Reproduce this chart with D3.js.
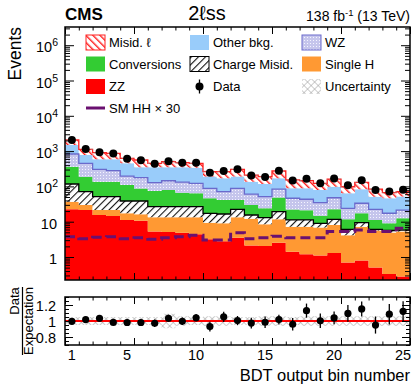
<!DOCTYPE html>
<html>
<head>
<meta charset="utf-8">
<script src="https://cdn.jsdelivr.net/npm/d3@7"></script>
<style>
  body { margin: 0; background: #fff; }
  svg { display: block; }
  text { font-family: "Liberation Sans", Arial, Helvetica, sans-serif; fill: #000; }
</style>
</head>
<body>
<svg id="chart" width="412" height="384"></svg>
<script>
// ---- Yields per BDT output bin (2lss category) ----
const bins = d3.range(1, 26);
const zz          = [22.4, 21.4, 15.5, 14.5, 11.2, 10.7, 5.3, 5.1, 4.9, 4.4, 3.2, 2.8, 3.5, 2.1, 2.05, 2.55, 1.4, 1.2, 1.1, 1.3, 0.7, 0.8, 0.5, 0.33, 0.28];
const singleH     = [14.5, 8.3, 5.9, 6.9, 6.1, 5.5, 8.0, 8.2, 8.4, 8.9, 6.2, 6.2, 9.8, 10.1, 6.35, 9.15, 5.8, 6.0, 5.7, 6.8, 3.4, 6.4, 5.1, 4.6, 5.0];
const chargeMisid = [80, 41, 29.6, 29.6, 21.3, 22.4, 13.4, 13.4, 13.4, 13.4, 7.9, 7.5, 9.1, 3.3, 4.6, 7.5, 4.0, 4.0, 2.2, 3.6, 2.0, 2.2, 0.5, 0.7, 0.5];
const conversions = [245, 118, 85, 85, 71, 49, 47, 52, 39, 37, 29, 25, 19, 14, 11, 29, 11, 10, 5.8, 11, 5.6, 7.9, 5.1, 3.4, 6.7];
const wz          = [466, 261, 168, 143, 87, 89, 54, 66, 67, 58, 42, 30, 47, 31, 27, 35, 24, 22, 20, 25, 12, 16, 11, 8.3, 8.9];
const otherBkg    = [661, 326, 281, 306, 253, 170, 219, 202, 214, 217, 101, 98, 101, 75, 66, 86, 42, 45, 44, 50, 40, 50, 29, 29, 30];
const misidLep    = [574, 346, 318, 280, 174, 213, 103, 155, 123, 111, 72, 92, 115, 74, 72, 104, 64, 57, 43, 64, 34, 47, 32, 20, 20];
const data        = [2055, 1141, 933, 850, 612, 549, 437, 519, 468, 468, 243, 275, 306, 204, 186, 278, 146, 164, 122, 168, 107, 150, 79, 72, 80];
const hhX30       = [3.77, 3.31, 3.6, 3.77, 3.31, 3.53, 3.17, 3.53, 3.77, 4.1, 3.03, 3.03, 4.9, 3.31, 3.53, 3.9, 3.53, 3.53, 3.53, 5.3, 5.3, 5.8, 5.3, 5.3, 6.5];
const relUnc      = [0.05, 0.05, 0.05, 0.05, 0.05, 0.05, 0.05, 0.09, 0.06, 0.05, 0.06, 0.06, 0.05, 0.05, 0.06, 0.06, 0.05, 0.06, 0.06, 0.06, 0.06, 0.06, 0.06, 0.06, 0.06];
const xTickLabels = [1, 5, 10, 15, 20, 25];
const yTickValues = [1, 10, 1e2, 1e3, 1e4, 1e5, 1e6];
const ratioTicks  = [0.8, 1, 1.2];

const processes = [
  { key: "zz",          label: "ZZ",             values: zz,          fill: "#ff0000" },
  { key: "singleH",     label: "Single H",       values: singleH,     fill: "#ff9933" },
  { key: "chargeMisid", label: "Charge Misid.",  values: chargeMisid, fill: "url(#hatchBlack)", line: "#000" },
  { key: "conversions", label: "Conversions",    values: conversions, fill: "#33cc33" },
  { key: "wz",          label: "WZ",             values: wz,          fill: "url(#dotsWZ)", line: "#6a6acc" },
  { key: "otherBkg",    label: "Other bkg.",     values: otherBkg,    fill: "#99ccfa" },
  { key: "misidLep",    label: "Misid. ℓ",       values: misidLep,    fill: "url(#hatchRed)", line: "#ff2020" }
];

const rows = bins.map((b, i) => {
  const r = { bin: b };
  processes.forEach(p => r[p.key] = p.values[i]);
  return r;
});
const stacked = d3.stack().keys(processes.map(p => p.key))(rows);
const total = rows.map(r => d3.sum(processes, p => r[p.key]));

const svg = d3.select("#chart");
const L = 65, R = 410, T = 27, B = 280, RT = 297, RB = 345;

const x = d3.scaleLinear().domain([0, 25]).range([L, R]);
const y = d3.scaleLog().domain([0.223, 3.28e6]).range([B, T]).clamp(true);
const yr = d3.scaleLinear().domain([0.7, 1.3]).range([RB, RT]);

// ---- patterns ----
const defs = svg.append("defs");
function hatch(id, color, dir, bg, w) {
  const p = defs.append("pattern").attr("id", id).attr("patternUnits", "userSpaceOnUse")
    .attr("width", 5).attr("height", 5)
    .attr("patternTransform", `rotate(${dir})`);
  p.append("rect").attr("width", 5).attr("height", 5).attr("fill", bg);
  p.append("line").attr("x1", 0).attr("y1", 0).attr("x2", 0).attr("y2", 5)
    .attr("stroke", color).attr("stroke-width", w);
}
hatch("hatchRed", "#ff1a1a", -45, "#fff", 2.8);
hatch("hatchBlack", "#111", 45, "#fff", 2.2);
{
  const p = defs.append("pattern").attr("id", "dotsWZ").attr("patternUnits", "userSpaceOnUse")
    .attr("width", 3).attr("height", 3);
  p.append("rect").attr("width", 3).attr("height", 3).attr("fill", "#c5c5ec");
  p.append("rect").attr("x", 1).attr("y", 1).attr("width", 1).attr("height", 1).attr("fill", "#f4f4ff");
}
{
  const p = defs.append("pattern").attr("id", "crossGray").attr("patternUnits", "userSpaceOnUse")
    .attr("width", 5).attr("height", 5).attr("patternTransform", "rotate(45)");
  p.append("line").attr("x1", 0).attr("y1", 0).attr("x2", 0).attr("y2", 5).attr("stroke", "#999").attr("stroke-width", 1);
  p.append("line").attr("x1", 0).attr("y1", 0).attr("x2", 5).attr("y2", 0).attr("stroke", "#999").attr("stroke-width", 1);
}
defs.append("clipPath").attr("id", "clipMain").append("rect")
  .attr("x", L).attr("y", T).attr("width", R - L).attr("height", B - T);
defs.append("clipPath").attr("id", "clipRatio").append("rect")
  .attr("x", L).attr("y", RT).attr("width", R - L).attr("height", RB - RT);

// step helpers
const stepPts = (arr) => arr.flatMap((d, i) => [{ x: i, v: d }, { x: i + 1, v: d }]);
const floorV = y.domain()[0];

const main = svg.append("g").attr("clip-path", "url(#clipMain)");

const area = d3.area()
  .x(p => x(p.x))
  .y0(p => y(Math.max(p.v[0], floorV)))
  .y1(p => y(Math.max(p.v[1], floorV)));

stacked.forEach((s, k) => {
  const proc = processes[k];
  const pts = stepPts(s.map(d => [d[0], d[1]]));
  main.append("path").attr("d", area(pts)).attr("fill", proc.fill).attr("stroke", "none");
});
// outlines on hatched / patterned layers
const line = d3.line().x(p => x(p.x)).y(p => y(Math.max(p.v, floorV)));
stacked.forEach((s, k) => {
  const proc = processes[k];
  if (!proc.line) return;
  main.append("path").attr("d", line(stepPts(s.map(d => d[1]))))
    .attr("fill", "none").attr("stroke", proc.line).attr("stroke-width", 1.3);
});

// total uncertainty band
const uncArea = d3.area()
  .x(p => x(p.x))
  .y0(p => y(p.v[0]))
  .y1(p => y(p.v[1]));
main.append("path")
  .attr("d", uncArea(stepPts(total.map((t, i) => [t * (1 - relUnc[i]), t * (1 + relUnc[i])]))))
  .attr("fill", "url(#crossGray)");

// SM HH x 30
main.append("path").attr("d", line(stepPts(hhX30)))
  .attr("fill", "none").attr("stroke", "#6a1070").attr("stroke-width", 3)
  .attr("stroke-dasharray", "10,5");

// data with Poisson errors
const dg = main.append("g");
data.forEach((n, i) => {
  const cx = x(i + 0.5), e = Math.sqrt(n);
  dg.append("line").attr("x1", cx).attr("x2", cx).attr("y1", y(n - e)).attr("y2", y(n + e))
    .attr("stroke", "#000").attr("stroke-width", 1.3);
  dg.append("circle").attr("cx", cx).attr("cy", y(n)).attr("r", 4).attr("fill", "#000");
});

// ---- axes (ROOT style, ticks inward) ----
function styleAxis(g) {
  g.select(".domain").remove();
  g.selectAll("line").attr("stroke", "#000").attr("stroke-width", 1);
  g.selectAll("text").remove();
}
const minorLog = [];
for (let e = -1; e <= 6; e++) for (let m = 2; m <= 9; m++) {
  const v = m * Math.pow(10, e);
  if (v > y.domain()[0] && v < y.domain()[1]) minorLog.push(v);
}
svg.append("g").attr("transform", `translate(${L},0)`).call(d3.axisLeft(y).tickValues(yTickValues).tickSize(-9)).call(styleAxis);
svg.append("g").attr("transform", `translate(${L},0)`).call(d3.axisLeft(y).tickValues(minorLog).tickSize(-5)).call(styleAxis);
svg.append("g").attr("transform", `translate(${R},0)`).call(d3.axisRight(y).tickValues(yTickValues).tickSize(-9)).call(styleAxis);
svg.append("g").attr("transform", `translate(${R},0)`).call(d3.axisRight(y).tickValues(minorLog).tickSize(-5)).call(styleAxis);

const xMajor = [0, 5, 10, 15, 20, 25];
const xMinor = d3.range(0, 26).filter(v => v % 5 !== 0);
[[B, d3.axisBottom], [T, d3.axisTop], [RB, d3.axisBottom], [RT, d3.axisTop]].forEach(([yy, ax]) => {
  svg.append("g").attr("transform", `translate(0,${yy})`).call(ax(x).tickValues(xMajor).tickSize(-7)).call(styleAxis);
  svg.append("g").attr("transform", `translate(0,${yy})`).call(ax(x).tickValues(xMinor).tickSize(-3.5)).call(styleAxis);
});

// y tick labels with exponents
const yl = svg.append("g");
yTickValues.forEach(v => {
  const e = Math.round(Math.log10(v));
  const t = yl.append("text").attr("x", 57).attr("y", y(v) + 7).attr("text-anchor", "end").attr("font-size", 14.5);
  if (e === 0) t.text("1");
  else if (e === 1) t.text("10");
  else {
    t.attr("x", 58);
    t.append("tspan").text("10");
    t.append("tspan").attr("dy", -6).attr("font-size", 10.5).text(e);
  }
});

svg.append("rect").attr("x", L).attr("y", T).attr("width", R - L).attr("height", B - T)
  .attr("fill", "none").attr("stroke", "#000").attr("stroke-width", 1.5);

// ---- header ----
svg.append("text").attr("x", 65).attr("y", 20).attr("font-size", 17).attr("font-weight", "bold").text("CMS");
svg.append("text").attr("x", 207).attr("y", 20).attr("text-anchor", "middle").attr("font-size", 20)
  .text("2ℓss");
{
  const t = svg.append("text").attr("x", 410).attr("y", 21).attr("text-anchor", "end").attr("font-size", 14);
  t.append("tspan").text("138 fb");
  t.append("tspan").attr("dy", -5).attr("font-size", 9.5).text("-1");
  t.append("tspan").attr("dy", 5).text(" (13 TeV)");
}
svg.append("text").attr("transform", "translate(21,27) rotate(-90)").attr("text-anchor", "end")
  .attr("font-size", 17.5).text("Events");

// ---- legend ----
const leg = svg.append("g");
const colX = [86, 190, 302], rowY = [42.5, 64, 86.5, 108];
const legendItems = [
  { c: 0, r: 0, label: "Misid. ℓ", fill: "url(#hatchRed)", stroke: "#ff2020" },
  { c: 1, r: 0, label: "Other bkg.", fill: "#99ccfa" },
  { c: 2, r: 0, label: "WZ", fill: "url(#dotsWZ)", stroke: "#6a6acc" },
  { c: 0, r: 1, label: "Conversions", fill: "#33cc33" },
  { c: 1, r: 1, label: "Charge Misid.", fill: "url(#hatchBlack)", stroke: "#000" },
  { c: 2, r: 1, label: "Single H", fill: "#ff9933" },
  { c: 0, r: 2, label: "ZZ", fill: "#ff0000" },
  { c: 1, r: 2, label: "Data", type: "data" },
  { c: 2, r: 2, label: "Uncertainty", fill: "url(#crossGray)" },
  { c: 0, r: 3, label: "SM HH × 30", type: "line" }
];
legendItems.forEach(it => {
  const x0 = colX[it.c], yc = rowY[it.r];
  if (it.type === "data") {
    leg.append("line").attr("x1", x0 + 9.5).attr("x2", x0 + 9.5).attr("y1", yc - 7).attr("y2", yc + 7)
      .attr("stroke", "#000").attr("stroke-width", 1.3);
    leg.append("circle").attr("cx", x0 + 9.5).attr("cy", yc).attr("r", 4).attr("fill", "#000");
  } else if (it.type === "line") {
    leg.append("line").attr("x1", x0).attr("x2", x0 + 19).attr("y1", yc).attr("y2", yc)
      .attr("stroke", "#6a1070").attr("stroke-width", 3);
  } else {
    leg.append("rect").attr("x", x0).attr("y", yc - 7.5).attr("width", 19).attr("height", 15)
      .attr("fill", it.fill).attr("stroke", it.stroke || "none").attr("stroke-width", 1);
  }
  leg.append("text").attr("x", x0 + 23).attr("y", yc + 4.7).attr("font-size", 13).text(it.label);
});

// ---- ratio panel ----
const rp = svg.append("g").attr("clip-path", "url(#clipRatio)");
const rArea = d3.area().x(p => x(p.x)).y0(p => yr(1 - p.v)).y1(p => yr(1 + p.v));
rp.append("path").attr("d", rArea(stepPts(relUnc))).attr("fill", "url(#crossGray)");
rp.append("line").attr("x1", L).attr("x2", R).attr("y1", yr(1)).attr("y2", yr(1))
  .attr("stroke", "#ff0000").attr("stroke-width", 2);
data.forEach((n, i) => {
  const cx = x(i + 0.5), r = n / total[i], e = Math.sqrt(n) / total[i];
  rp.append("line").attr("x1", cx).attr("x2", cx).attr("y1", yr(r - e)).attr("y2", yr(r + e))
    .attr("stroke", "#000").attr("stroke-width", 1.3);
  rp.append("circle").attr("cx", cx).attr("cy", yr(r)).attr("r", 3.6).attr("fill", "#000");
});
const rMinor = d3.range(0.7, 1.301, 0.05).filter(v => !ratioTicks.some(t => Math.abs(t - v) < 1e-6));
svg.append("g").attr("transform", `translate(${L},0)`).call(d3.axisLeft(yr).tickValues(ratioTicks).tickSize(-8)).call(styleAxis);
svg.append("g").attr("transform", `translate(${L},0)`).call(d3.axisLeft(yr).tickValues(rMinor).tickSize(-4)).call(styleAxis);
svg.append("g").attr("transform", `translate(${R},0)`).call(d3.axisRight(yr).tickValues(ratioTicks).tickSize(-8)).call(styleAxis);
svg.append("g").attr("transform", `translate(${R},0)`).call(d3.axisRight(yr).tickValues(rMinor).tickSize(-4)).call(styleAxis);
svg.append("rect").attr("x", L).attr("y", RT).attr("width", R - L).attr("height", RB - RT)
  .attr("fill", "none").attr("stroke", "#000").attr("stroke-width", 1.5);

ratioTicks.forEach(v => {
  svg.append("text").attr("x", 56).attr("y", yr(v) + 5.5).attr("text-anchor", "end")
    .attr("font-size", 14.5).text(v === 1 ? "1" : v.toFixed(1));
});
xTickLabels.forEach(v => {
  svg.append("text").attr("x", x(v - 0.5)).attr("y", 360).attr("text-anchor", "middle")
    .attr("font-size", 14.5).text(v);
});
svg.append("text").attr("x", 410).attr("y", 381).attr("text-anchor", "end").attr("font-size", 16.5)
  .text("BDT output bin number");

// Data / Expectation fraction title
svg.append("text").attr("transform", "translate(19,301) rotate(-90)").attr("text-anchor", "middle")
  .attr("font-size", 13).text("Data");
svg.append("line").attr("x1", 22.5).attr("x2", 22.5).attr("y1", 287).attr("y2", 355)
  .attr("stroke", "#000").attr("stroke-width", 1.2);
svg.append("text").attr("transform", "translate(33,321) rotate(-90)").attr("text-anchor", "middle")
  .attr("font-size", 13).text("Expectation");
</script>
</body>
</html>
